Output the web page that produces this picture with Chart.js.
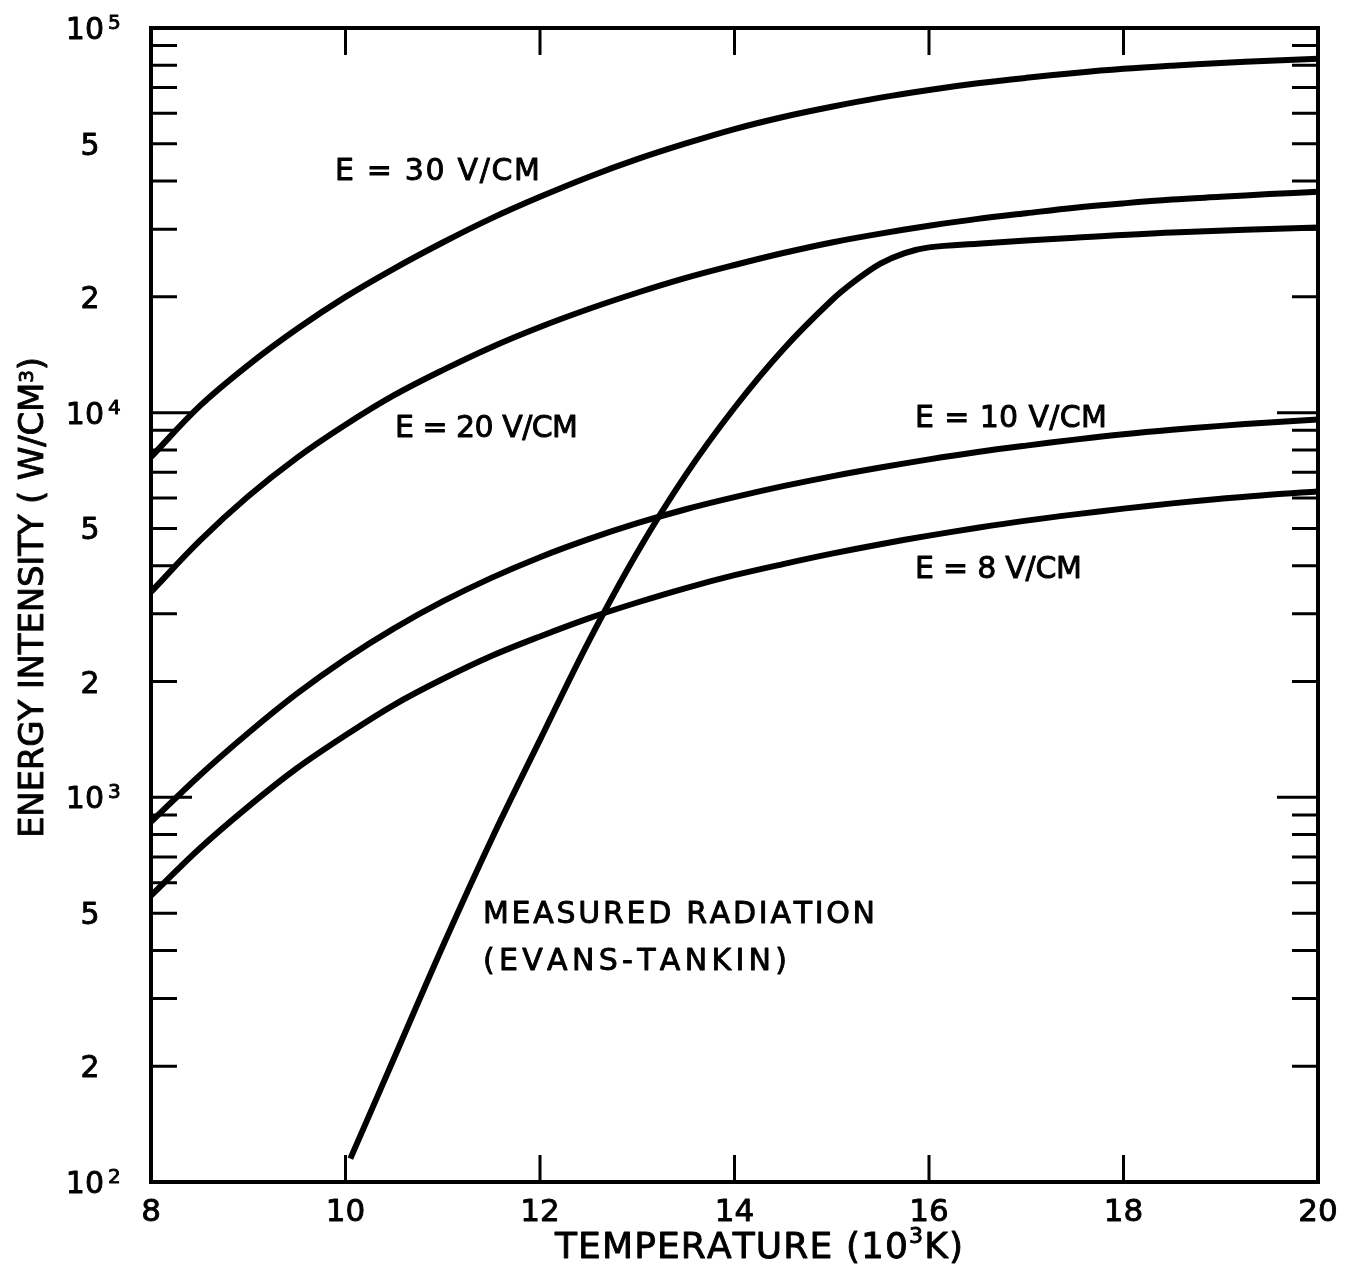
<!DOCTYPE html>
<html>
<head>
<meta charset="utf-8">
<title>Energy intensity vs temperature</title>
<script src="https://cdn.jsdelivr.net/npm/chart.js@4.4.1/dist/chart.umd.min.js"></script>
<style>
  html, body { margin: 0; padding: 0; background: #fff; }
  canvas { display: block; }
</style>
</head>
<body>
<canvas id="intensityChart" width="1362" height="1274"></canvas>
<script>
// temperature in 10^3 K, intensity in W/cm^3
const tempGrid = [8, 8.5, 9, 9.5, 10, 10.5, 11, 11.5, 12, 12.5, 13, 13.5, 14, 14.5, 15, 15.5, 16, 16.5, 17, 17.5, 18, 18.5, 19, 19.5, 20];
const e30 = [7670, 10400, 13300, 16500, 20000, 23700, 27700, 32000, 36400, 41000, 45600, 50100, 54600, 58700, 62400, 65900, 69000, 71800, 74200, 76400, 78300, 79800, 81100, 82200, 83200];
const e20 = [3420, 4640, 6060, 7630, 9300, 11100, 12900, 14800, 16700, 18600, 20500, 22400, 24200, 26000, 27700, 29200, 30600, 31900, 33000, 34100, 35000, 35800, 36400, 37000, 37500];
const e10 = [863, 1140, 1470, 1860, 2290, 2750, 3230, 3720, 4210, 4690, 5160, 5610, 6030, 6440, 6830, 7200, 7560, 7900, 8210, 8510, 8790, 9030, 9240, 9430, 9600];
const e8 = [555, 736, 946, 1190, 1450, 1740, 2030, 2330, 2620, 2920, 3210, 3500, 3780, 4040, 4300, 4550, 4790, 5020, 5240, 5440, 5630, 5810, 5970, 6120, 6240];

// Evans-Tankin measured radiation
const measuredTemps = [10.05, 10.5, 11, 11.5, 12, 12.5, 13, 13.5, 14, 14.5, 15, 15.25, 15.5, 15.75, 16, 16.5, 17.5, 18.5, 20];
const measured = [115, 210, 410, 776, 1410, 2540, 4330, 6900, 10300, 14600, 19600, 22100, 24400, 26000, 26900, 27500, 28500, 29400, 30300];

// axis ticks
const xTicks = [8, 10, 12, 14, 16, 18, 20];
const decades = [2, 3, 4, 5];
const mantissas = [1, 2, 3, 4, 5, 6, 7, 8, 9];
const labelledMantissas = [1, 2, 5];

const FONT = '"DejaVu Sans", "Liberation Sans", sans-serif';

function points(xs, ys) {
    return xs.map((t, i) => ({ x: t, y: ys[i] }));
}

function curve(label, xs, ys) {
    return {
        label: label,
        data: points(xs, ys),
        borderColor: '#000',
        borderWidth: 6,
        pointRadius: 0,
        fill: false,
        tension: 0.35
    };
}

// lettering is a little heavier than the plain font, so fill and outline it
function ink(ctx, text, x, y) {
    ctx.fillText(text, x, y);
    ctx.strokeText(text, x, y);
}

// draws a row of text runs stretched between x0 and x1 by spacing the letters
function drawSpaced(ctx, runs, x0, x1, baseline) {
    let natural = 0, count = 0;
    runs.forEach(r => {
        ctx.font = r.size + 'px ' + FONT;
        for (const ch of r.text) { natural += ctx.measureText(ch).width; count++; }
    });
    const gap = count > 1 ? (x1 - x0 - natural) / (count - 1) : 0;
    let x = x0;
    ctx.textAlign = 'left';
    ctx.textBaseline = 'alphabetic';
    runs.forEach(r => {
        ctx.font = r.size + 'px ' + FONT;
        for (const ch of r.text) {
            ink(ctx, ch, x, baseline - (r.rise || 0));
            x += ctx.measureText(ch).width + gap;
        }
    });
}

const notes = [
    { runs: [{ text: 'E = 30 V/CM', size: 30 }], x0: 335, x1: 540, base: 180 },
    { runs: [{ text: 'E = 20 V/CM', size: 30 }], x0: 395, x1: 578, base: 437 },
    { runs: [{ text: 'E = 10 V/CM', size: 30 }], x0: 915, x1: 1107, base: 427 },
    { runs: [{ text: 'E = 8 V/CM', size: 30 }], x0: 915, x1: 1082, base: 578 },
    { runs: [{ text: 'MEASURED RADIATION', size: 30 }], x0: 483, x1: 875, base: 923 },
    { runs: [{ text: '(EVANS-TANKIN)', size: 30 }], x0: 483, x1: 787, base: 970 }
];

const frameAndText = {
    id: 'frameAndText',
    afterDraw(chart) {
        const { ctx, chartArea: a, scales: { x, y } } = chart;
        ctx.save();
        ctx.strokeStyle = '#000';
        ctx.fillStyle = '#000';

        // inward tick marks on all four sides
        ctx.lineWidth = 3;
        ctx.beginPath();
        xTicks.slice(1, -1).forEach(t => {
            const px = x.getPixelForValue(t);
            ctx.moveTo(px, a.bottom);
            ctx.lineTo(px, a.bottom - 27);
            ctx.moveTo(px, a.top);
            ctx.lineTo(px, a.top + 27);
        });
        y.ticks.forEach(tk => {
            const py = y.getPixelForValue(tk.value);
            const len = tk.major ? 41 : 26;
            ctx.moveTo(a.left, py);
            ctx.lineTo(a.left + len, py);
            ctx.moveTo(a.right, py);
            ctx.lineTo(a.right - len, py);
        });
        ctx.stroke();

        ctx.lineWidth = 4;
        ctx.strokeRect(a.left, a.top, a.right - a.left, a.bottom - a.top);

        ctx.lineWidth = 0.9;
        ctx.lineJoin = 'round';
        ctx.textBaseline = 'alphabetic';

        // x labels
        ctx.font = '31px ' + FONT;
        ctx.textAlign = 'center';
        xTicks.forEach(t => ink(ctx, String(t), x.getPixelForValue(t), a.bottom + 39));

        // y labels: 10^n, 2, 5
        decades.forEach(e => {
            labelledMantissas.forEach(m => {
                const v = m * Math.pow(10, e);
                if (v > 1e5) return;
                const py = y.getPixelForValue(v);
                if (m === 1) {
                    ctx.font = '30px ' + FONT;
                    ctx.textAlign = 'right';
                    ink(ctx, '10', 104, py + 11);
                    ctx.font = '20px ' + FONT;
                    ctx.textAlign = 'left';
                    ink(ctx, String(e), 108, py + 1);
                } else {
                    ctx.font = '30px ' + FONT;
                    ctx.textAlign = 'center';
                    ink(ctx, String(m), 90, py + 11);
                }
            });
        });

        notes.forEach(n => drawSpaced(ctx, n.runs, n.x0, n.x1, n.base));

        // axis titles
        drawSpaced(ctx, [
            { text: 'TEMPERATURE (10', size: 36 },
            { text: '3', size: 22, rise: 15 },
            { text: 'K)', size: 36 }
        ], 555, 963, 1258);

        ctx.save();
        ctx.translate(43, 838);
        ctx.rotate(-Math.PI / 2);
        drawSpaced(ctx, [
            { text: 'ENERGY INTENSITY ( W/CM', size: 34 },
            { text: '3', size: 20, rise: 10 },
            { text: ')', size: 34 }
        ], 0, 481, 0);
        ctx.restore();

        ctx.restore();
    }
};

const ctx = document.getElementById('intensityChart').getContext('2d');
new Chart(ctx, {
    type: 'line',
    data: {
        datasets: [
            curve('E = 30 V/CM', tempGrid, e30),
            curve('E = 20 V/CM', tempGrid, e20),
            curve('E = 10 V/CM', tempGrid, e10),
            curve('E = 8 V/CM', tempGrid, e8),
            curve('Measured radiation (Evans-Tankin)', measuredTemps, measured)
        ]
    },
    options: {
        responsive: false,
        animation: false,
        devicePixelRatio: 1,
        layout: { padding: { top: 28, right: 44, left: 0, bottom: 0 } },
        plugins: {
            legend: { display: false },
            tooltip: { enabled: false }
        },
        scales: {
            x: {
                type: 'linear',
                min: 8,
                max: 20,
                grid: { display: false, drawTicks: false },
                border: { display: false },
                ticks: { display: false },
                afterBuildTicks(scale) {
                    scale.ticks = xTicks.map(v => ({ value: v }));
                },
                afterFit(scale) { scale.height = 92; }
            },
            y: {
                type: 'logarithmic',
                min: 100,
                max: 100000,
                grid: { display: false, drawTicks: false },
                border: { display: false },
                ticks: { display: false },
                afterBuildTicks(scale) {
                    const ticks = [];
                    decades.forEach(e => mantissas.forEach(m => {
                        const v = m * Math.pow(10, e);
                        if (v <= 1e5) ticks.push({ value: v, major: m === 1 });
                    }));
                    scale.ticks = ticks;
                },
                afterFit(scale) { scale.width = 151; }
            }
        }
    },
    plugins: [frameAndText]
});
</script>
</body>
</html>
